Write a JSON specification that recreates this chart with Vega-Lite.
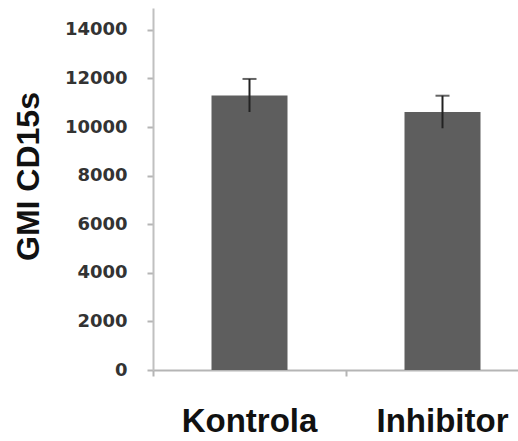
{
  "$schema": "https://vega.github.io/schema/vega-lite/v6.json",
  "width": 365,
  "height": 362,
  "autosize": {"type": "none"},
  "padding": {"left": 153, "top": 8, "right": 0, "bottom": 71},
  "background": "white",
  "config": {"view": {"stroke": null}},
  "data": {"values": [
    {"group": "Kontrola", "value": 11300, "low": 10620, "high": 11980},
    {"group": "Inhibitor", "value": 10620, "low": 9950, "high": 11290}
  ]},
  "encoding": {
    "x": {
      "field": "group", "type": "nominal", "sort": ["Kontrola", "Inhibitor"],
      "scale": {"range": [0, 386], "paddingInner": 0, "paddingOuter": 0},
      "axis": {
        "title": null, "labelAngle": 0, "bandPosition": 0,
        "labelFont": "Liberation Sans", "labelFontSize": 33, "labelFontWeight": "bold",
        "labelColor": "#111", "labelPadding": 29,
        "domainColor": "#b5b5b5", "domainWidth": 2,
        "tickColor": "#b5b5b5", "tickSize": 6, "tickWidth": 2
      }
    }
  },
  "layer": [
    {
      "mark": {"type": "bar", "width": 76, "color": "#5e5e5e"},
      "encoding": {
        "y": {
          "field": "value", "type": "quantitative",
          "scale": {"domain": [0, 14900], "nice": false, "zero": true},
          "axis": {
            "title": "GMI CD15s",
            "titleFont": "Liberation Sans", "titleFontSize": 32, "titleFontWeight": "bold",
            "titleColor": "#111", "titleAngle": -90, "titleAlign": "center", "titleBaseline": "middle",
            "titleX": -125, "titleY": 168,
            "values": [0, 2000, 4000, 6000, 8000, 10000, 12000, 14000],
            "format": "d", "grid": false,
            "labelFont": "DejaVu Sans", "labelFontSize": 18, "labelFontWeight": "bold",
            "labelColor": "#333", "labelPadding": 20,
            "domainColor": "#c0c0c0", "domainWidth": 2,
            "tickColor": "#b5b5b5", "tickSize": 6, "tickWidth": 2
          }
        }
      }
    },
    {
      "mark": {"type": "rule", "color": "#222", "strokeWidth": 2},
      "encoding": {
        "y": {"field": "low", "type": "quantitative"},
        "y2": {"field": "high"}
      }
    },
    {
      "mark": {"type": "tick", "color": "#222", "size": 14, "thickness": 2},
      "encoding": {"y": {"field": "high", "type": "quantitative"}}
    }
  ]
}
